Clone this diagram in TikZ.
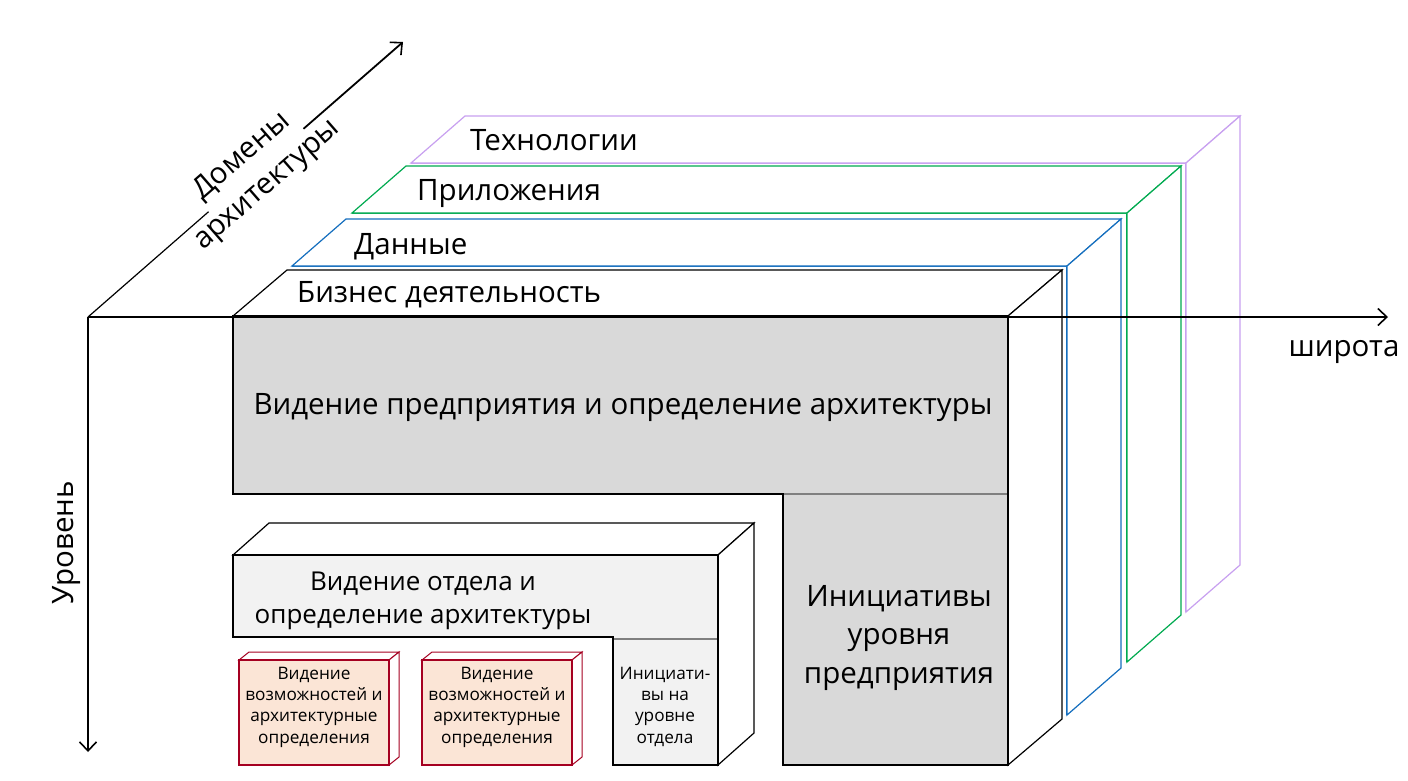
\documentclass[tikz,border=0pt]{standalone}
\usepackage{fontspec}
\setmainfont{Open Sans}
\usetikzlibrary{arrows.meta}
\definecolor{techc}{RGB}{200,160,240}
\definecolor{appc}{RGB}{0,170,80}
\definecolor{datac}{RGB}{20,110,190}
\definecolor{maingray}{RGB}{217,217,217}
\definecolor{deptgray}{RGB}{242,242,242}
\definecolor{sepgray}{RGB}{128,128,128}
\definecolor{redb}{RGB}{165,0,33}
\definecolor{peach}{RGB}{251,229,214}
\newcommand\fbig{\fontsize{29.5}{38}\selectfont}
\newcommand\fini{\fontsize{29.5}{38.5}\selectfont}
\newcommand\fdept{\fontsize{26}{33}\selectfont}
\newcommand\fsmall{\fontsize{17.2}{21.3}\selectfont}
\tikzset{
  lay/.style={line width=1.2pt, fill=white, line join=miter},
  bord/.style={line width=2.4pt, line join=miter},
  axisline/.style={line width=1.8pt, draw=black},
  tipend/.style={-{Straight Barb[length=9pt,width=17pt,line width=1.6pt]}},
  lbl/.style={font=\fbig, inner sep=0pt, anchor=base west},
  redthin/.style={line width=1pt, draw=redb, fill=white, line join=miter},
  redfront/.style={line width=2.4pt, draw=redb, fill=peach},
  smalltxt/.style={font=\fsmall, align=center, inner sep=0pt, anchor=base},
}
\newcommand\slab[3]{%
  \fill[white] (#2,#3) rectangle ++(775,449);
  \draw[line width=1.2pt, draw=#1] (#2,#3) -- ++(775,0) -- ++(0,449);
  \draw[lay,draw=#1] (#2,#3) -- ++(54,-47) -- ++(775,0) -- ++(-54,47) -- cycle;
  \draw[lay,draw=#1] (#2+775,#3) -- ++(54,-47) -- ++(0,449) -- ++(-54,47) -- cycle;
}
\newcommand\redbox[2]{%
  \draw[redthin] (#1,#2) -- ++(10,-8) -- ++(150,0) -- ++(-10,8) -- cycle;
  \draw[redthin] (#1+150,#2) -- ++(10,-8) -- ++(0,105) -- ++(-10,8) -- cycle;
  \draw[redfront] (#1,#2) rectangle ++(150,105);
}
\begin{document}
\begin{tikzpicture}[x=1pt,y=-1pt]
\useasboundingbox[fill=white] (0,0) rectangle (1408,780);
% layers, back to front
\slab{techc}{411}{163}
\slab{appc}{352}{213}
\slab{datac}{292}{266}
% business layer (front face covered by the blocks)
\fill[white] (233,316) rectangle ++(775,449);
\draw[lay,draw=black] (233,316) -- ++(54,-46) -- ++(775,0) -- ++(-54,46) -- cycle;
\draw[lay,draw=black] (1008,316) -- ++(54,-46) -- ++(0,449) -- ++(-54,46) -- cycle;
% enterprise L block
\fill[maingray] (233,316) rectangle (1008,494);
\fill[maingray] (783,494) rectangle (1008,765);
\draw[sepgray, line width=1.2pt] (783,494) -- (1008,494);
\draw[bord] (233,316) -- (1008,316) -- (1008,765) -- (783,765) -- (783,494) -- (233,494) -- cycle;
% department box
\draw[lay,draw=black] (233,555) -- ++(36,-32) -- ++(485,0) -- ++(-36,32) -- cycle;
\draw[lay,draw=black] (718,555) -- ++(36,-32) -- ++(0,210) -- ++(-36,32) -- cycle;
\fill[deptgray] (233,555) rectangle (718,638);
\fill[deptgray] (613,638) rectangle (718,765);
\draw[sepgray, line width=1.2pt] (613,639) -- (718,639);
\draw[bord] (233,555) -- (718,555) -- (718,765) -- (613,765) -- (613,637) -- (233,637) -- cycle;
% capability boxes
\redbox{239}{660}
\redbox{422}{660}
% texts
\node[lbl] (ttech) at (470,150) {Технологии};
\node[lbl] (tapp) at (417,200) {Приложения};
\node[lbl] (tdata) at (354,254) {Данные};
\node[lbl] (tbiz) at (297,302) {Бизнес деятельность};
\node[font=\fbig, inner sep=0pt, anchor=base] (tvision) at (623,414) {Видение предприятия и определение архитектуры};
\node[font=\fini, align=center, inner sep=0pt, anchor=base] (tinit) at (899,683) {Инициативы\\уровня\\предприятия};
\node[font=\fdept, align=center, inner sep=0pt, anchor=base] (tdept) at (423,623) {Видение отдела и\\определение архитектуры};
\node[smalltxt] (tcap1) at (314,743) {Видение\\возможностей и\\архитектурные\\определения};
\node[smalltxt] (tcap2) at (497,743) {Видение\\возможностей и\\архитектурные\\определения};
\node[smalltxt] (tdinit) at (665,743) {Инициати-\\вы на\\уровне\\отдела};
% axes
\coordinate (O) at (88,317);
\coordinate (xend) at (1388,317);
\coordinate (yend) at (88,752);
\coordinate (g1) at (208.6,211.7);
\coordinate (g2) at (303.5,128.8);
\coordinate (zend) at (403,42);
\draw[axisline, tipend] (O) -- (xend);
\draw[axisline, tipend] (O) -- (yend);
\draw[line width=1.2pt] (O) -- (g1);
\draw[axisline, tipend] (g2) -- (zend);
\node[font=\fbig, inner sep=0pt] (twidth) at (1344,352) {широта};
\node[font=\fbig, inner sep=0pt, rotate=90] (tlevel) at (67,543) {Уровень};
\node[font=\fbig, align=center, inner sep=0pt, rotate=41.1] (tdomain) at (255,171) {Домены\\архитектуры};
\end{tikzpicture}
\end{document}
